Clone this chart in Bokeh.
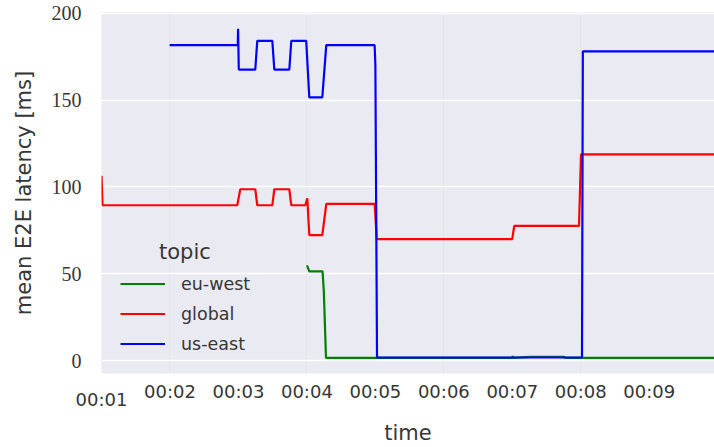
from bokeh.plotting import figure
from bokeh.models import Range1d, FixedTicker, Label, Legend, LegendItem, LinearAxis
from bokeh.embed import file_html
from bokeh.resources import INLINE

# ---- data (time in minutes, latency in ms) ----
eu_west_t = [4.001, 4.035, 4.229, 4.247, 4.279, 6.999, 7.007, 7.013, 7.261, 7.757, 7.77, 9.953]
eu_west_v = [55.0, 51.5, 51.5, 40.0, 1.8, 1.8, 2.8, 1.8, 2.4, 2.4, 1.8, 1.8]

global_t = [1.0, 1.015, 2.983, 3.027, 3.246, 3.275, 3.495, 3.524, 3.743, 3.772,
            3.977, 4.006, 4.035, 4.225, 4.283, 4.989, 5.021, 6.999, 7.028, 7.974, 8.003, 9.953]
global_v = [106.5, 89.5, 89.5, 98.7, 98.7, 89.5, 89.5, 98.7, 98.7, 89.5,
            89.5, 93.5, 72.3, 72.3, 90.3, 90.3, 70.0, 70.0, 77.6, 77.6, 118.7, 118.7]

us_east_t = [1.995, 2.99, 2.995, 3.005, 3.246, 3.275, 3.495, 3.524, 3.743, 3.772,
             3.99, 4.035, 4.225, 4.283, 4.989, 5.0, 5.024, 8.018, 8.03, 9.953]
us_east_v = [181.5, 181.5, 191.0, 167.5, 167.5, 184.0, 184.0, 167.5, 167.5, 184.0,
             184.0, 151.5, 151.5, 181.5, 181.5, 170.0, 2.0, 2.0, 178.0, 178.0]

x_ticks = [2, 3, 4, 5, 6, 7, 8, 9]
x_tick_labels = ["00:02", "00:03", "00:04", "00:05", "00:06", "00:07", "00:08", "00:09"]
first_tick = [1]
first_tick_label = ["00:01"]
y_ticks = [0, 50, 100, 150, 200]

TEXT = "#363636"
SANS = "DejaVu Sans"

p = figure(width=714, height=447, output_backend="svg", toolbar_location=None,
           x_range=Range1d(1.0, 9.953), y_range=Range1d(-7.2, 200.3),
           x_axis_location=None,
           min_border_left=101, min_border_right=0, min_border_top=12, min_border_bottom=0)
p.background_fill_color = "#EAEAF2"
p.border_fill_color = "white"
p.outline_line_color = None

p.ygrid.grid_line_color = "white"
p.ygrid.grid_line_width = 1.7
p.ygrid.ticker = FixedTicker(ticks=y_ticks)

# x axes: main ticks, plus the lower-placed first tick label (carries axis title)
xa = LinearAxis(ticker=FixedTicker(ticks=x_ticks),
                major_label_overrides={t: l for t, l in zip(x_ticks, x_tick_labels)},
                major_label_standoff=7)
xb = LinearAxis(ticker=FixedTicker(ticks=first_tick),
                major_label_overrides={t: l for t, l in zip(first_tick, first_tick_label)},
                major_label_standoff=-16, axis_label="time", axis_label_standoff=8)
p.add_layout(xa, "below")
p.add_layout(xb, "below")

p.yaxis.ticker = FixedTicker(ticks=y_ticks)
p.yaxis.major_label_text_font = "Liberation Serif"
p.yaxis.major_label_text_font_size = "20px"
p.yaxis.major_label_standoff = 20
p.yaxis.axis_label = "mean E2E latency [ms]"
p.yaxis.axis_label_standoff = 13

for ax in (xa, xb):
    ax.major_label_text_font = SANS
    ax.major_label_text_font_size = "18px"

for ax in (xa, xb, p.yaxis[0]):
    ax.axis_line_color = None
    ax.major_tick_line_color = None
    ax.minor_tick_line_color = None
    ax.major_tick_out = 0
    ax.major_tick_in = 0
    ax.minor_tick_out = 0
    ax.minor_tick_in = 0
    ax.major_label_text_color = TEXT
    ax.axis_label_text_color = TEXT
    ax.axis_label_text_font = SANS
    ax.axis_label_text_font_style = "normal"
    ax.axis_label_text_font_size = "21px"

r1 = p.line(eu_west_t, eu_west_v, line_color="#008000", line_width=2.2)
r2 = p.line(global_t, global_v, line_color="#FF0000", line_width=2.2)
r3 = p.line(us_east_t, us_east_v, line_color="#0000FF", line_width=2.2)

legend = Legend(items=[LegendItem(label="eu-west", renderers=[r1]),
                       LegendItem(label="global", renderers=[r2]),
                       LegendItem(label="us-east", renderers=[r3])],
                location=(19, 16), orientation="vertical")
legend.background_fill_alpha = 0
legend.border_line_color = None
legend.padding = 0
legend.margin = 0
legend.spacing = 3
legend.glyph_width = 45
legend.glyph_height = 27
legend.label_height = 27
legend.label_standoff = 16
legend.label_text_font = SANS
legend.label_text_font_size = "17.5px"
legend.label_text_color = TEXT
legend.label_text_baseline = "middle"
p.add_layout(legend, "center")

p.add_layout(Label(x=1.84, y=62.5, text="topic", text_align="left", text_baseline="middle",
                   text_font=SANS, text_font_size="21px", text_color=TEXT))

open("out.html", "w").write(file_html(p, INLINE))
